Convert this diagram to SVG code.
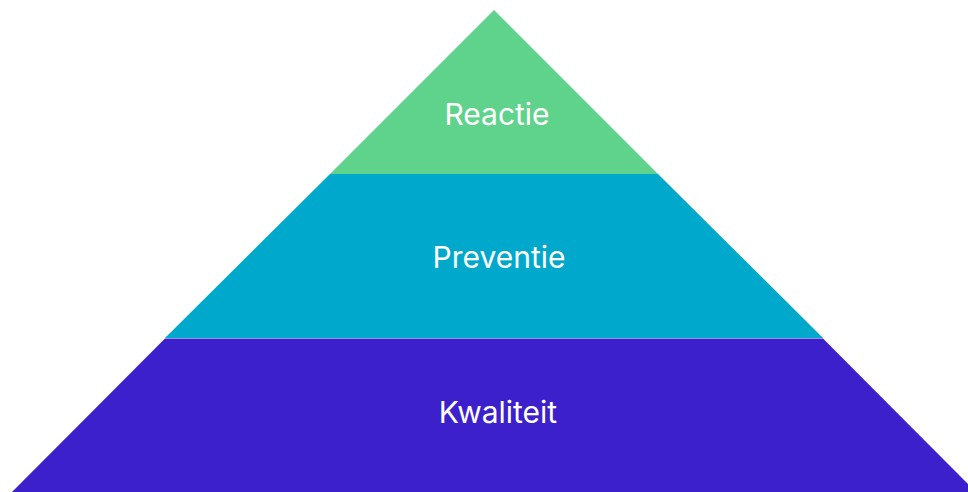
<svg xmlns="http://www.w3.org/2000/svg" width="968" height="492" viewBox="0 0 968 492">
<style>
.lbl{font-family:Inter,"Liberation Sans",sans-serif;font-size:30px;fill:#ffffff;text-anchor:middle}
</style>
<rect width="968" height="492" fill="#ffffff"/>
<g id="kwaliteit">
<polygon points="165,338.5 823,338.5 976,492 12,492" fill="#3c20cc"/>
<text class="lbl" x="498" y="423">Kwaliteit</text>
</g>
<g id="preventie">
<polygon points="330,174 658,174 823,338 165,338" fill="#00a8cc"/>
<text class="lbl" x="499" y="268">Preventie</text>
</g>
<g id="reactie">
<polygon points="494,10 658,174 330,174" fill="#5fd38b"/>
<text class="lbl" x="497" y="125">Reactie</text>
</g>
<g id="connectors"></g>
</svg>
